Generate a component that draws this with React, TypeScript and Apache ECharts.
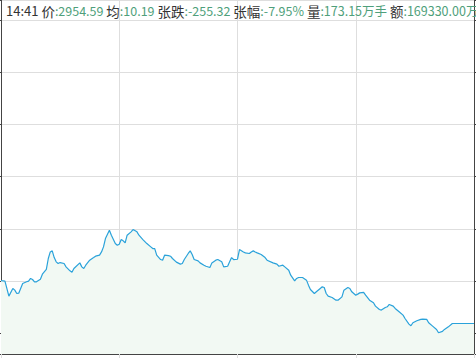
import React, { useEffect, useRef } from "react";
import * as echarts from "echarts";

// minutes since the open (0..240) and index level at that minute
const minutes = [
  0, 2, 4, 6, 7, 8, 9, 11, 13, 14, 15, 16, 17, 18, 20, 21, 23, 24, 25, 26, 27, 28, 29, 30, 32, 33, 35, 36, 37, 40,
  41, 42, 43, 45, 47, 48, 50, 51, 52, 53, 55, 56, 58, 59, 60, 61, 62, 63, 64, 66, 67, 69, 70, 72, 74, 76, 77, 78, 79,
  81, 82, 83, 85, 86, 87, 89, 91, 92, 93, 95, 96, 97, 98, 100, 101, 103, 104, 106, 107, 109, 110, 112, 113, 115, 116,
  117, 118, 120, 121, 123, 124, 126, 127, 128, 129, 130, 132, 134, 135, 138, 140, 141, 143, 144, 146, 147, 149, 150,
  151, 153, 155, 156, 157, 159, 160, 162, 163, 164, 165, 166, 168, 170, 171, 173, 174, 176, 177, 178, 180, 181, 182,
  184, 185, 187, 189, 190, 192, 193, 195, 196, 197, 199, 200, 202, 204, 205, 207, 208, 209, 211, 213, 214, 216, 217,
  219, 221, 222, 224, 225, 227, 229, 240,
];
const prices = [
  3000.6, 3000.0, 2985.7, 2993.0, 2991.4, 2988.2, 2988.5, 2997.8, 2999.4, 3000.0, 3002.6, 3001.6, 2999.4, 2999.4,
  3001.9, 3006.7, 3011.2, 3021.7, 3028.0, 3029.0, 3022.6, 3018.5, 3016.9, 3017.8, 3016.9, 3013.7, 3009.9, 3008.6,
  3012.1, 3017.5, 3013.7, 3012.1, 3015.3, 3020.1, 3022.6, 3023.9, 3024.9, 3028.0, 3032.8, 3040.8, 3048.8, 3044.0,
  3036.0, 3034.4, 3035.4, 3039.8, 3038.6, 3036.6, 3044.0, 3047.2, 3049.4, 3047.2, 3044.0, 3039.8, 3036.0, 3032.8,
  3031.2, 3031.2, 3024.9, 3020.7, 3020.1, 3024.9, 3024.5, 3023.9, 3021.7, 3018.2, 3016.3, 3016.9, 3020.7, 3026.5,
  3029.0, 3025.5, 3020.7, 3019.4, 3017.5, 3015.3, 3014.3, 3013.1, 3017.5, 3020.1, 3020.7, 3018.5, 3013.7, 3014.3,
  3018.5, 3022.6, 3020.7, 3021.0, 3030.3, 3028.0, 3027.1, 3026.5, 3028.0, 3029.0, 3028.0, 3027.1, 3025.5, 3022.6,
  3020.1, 3017.5, 3016.3, 3014.3, 3015.3, 3013.7, 3010.5, 3005.7, 3000.3, 3002.6, 3003.5, 3003.5, 3001.0, 2996.2,
  2992.0, 2988.2, 2989.8, 2993.0, 2994.6, 2993.9, 2988.2, 2985.7, 2984.4, 2981.8, 2981.8, 2985.0, 2991.4, 2993.9,
  2993.0, 2989.8, 2986.6, 2987.6, 2988.8, 2989.2, 2986.6, 2981.8, 2979.3, 2976.1, 2972.9, 2972.3, 2974.8, 2975.5,
  2977.7, 2976.1, 2973.9, 2970.7, 2967.5, 2964.3, 2958.9, 2957.3, 2960.2, 2962.1, 2963.4, 2963.7, 2963.4, 2960.2,
  2957.0, 2953.8, 2950.6, 2951.9, 2953.8, 2956.3, 2959.5, 2959.5,
];

// header (tooltip-like) time, labels and values
const headerTime = "14:41";
const headerLabels = ["价", "均", "张跌", "张幅", "量", "额"];
const headerValues = ["2954.59", "10.19", "-255.32", "-7.95%", "173.15万手", "169330.00万"];

const Y_MIN = 2930.3;
const Y_MAX = 3269.1;

export default function App() {
  const ref = useRef<HTMLDivElement>(null);
  useEffect(() => {
    if (!ref.current) return;
    const chart = echarts.init(ref.current, null, { renderer: "svg" });
    const data = minutes.map((m, i) => [m, prices[i]]);
    const headerText =
      `{t|${headerTime} }` +
      headerLabels.map((l, i) => `{l|${l}}{v|:${headerValues[i]}}`).join("{t| }");
    const axisDark = "#444";
    const gridColor = "#dedede";
    const ff = "'Noto Sans CJK SC', 'Noto Sans', sans-serif";
    chart.setOption({
      animation: false,
      backgroundColor: "#fff",
      grid: { left: 1, right: 2, top: -1, bottom: 4, containLabel: false },
      xAxis: {
        type: "value",
        min: 0,
        max: 240,
        interval: 60,
        axisLine: { show: true, lineStyle: { color: axisDark, width: 1 } },
        axisTick: { show: true, length: 5, lineStyle: { color: gridColor } },
        axisLabel: { show: false },
        splitLine: { show: true, lineStyle: { color: gridColor, width: 1 } },
      },
      yAxis: [
        {
          type: "value",
          min: Y_MIN,
          max: Y_MAX,
          position: "left",
          axisLine: { show: true, lineStyle: { color: axisDark, width: 1 } },
          axisTick: { show: true, length: 4, lineStyle: { color: axisDark } },
          axisLabel: { show: false },
          splitLine: { show: true, lineStyle: { color: gridColor, width: 1 } },
        },
        {
          type: "value",
          min: Y_MIN,
          max: Y_MAX,
          position: "right",
          axisLine: { show: true, lineStyle: { color: axisDark, width: 1 } },
          axisTick: { show: true, length: 4, lineStyle: { color: axisDark } },
          axisLabel: { show: false },
          splitLine: { show: false },
        },
      ],
      series: [
        {
          type: "line",
          data,
          symbol: "none",
          smooth: false,
          lineStyle: { color: "#2aa2da", width: 1.2 },
          areaStyle: { color: "#f2f9f3", opacity: 1, origin: "start" },
        },
      ],
      graphic: [
        {
          type: "text",
          left: 6,
          top: 4,
          z: 10,
          style: {
            text: headerText,
            fontFamily: ff,
            fontSize: 12.5,
            rich: {
              t: { fill: "#333", fontSize: 13, fontFamily: ff },
              l: { fill: "#333", fontSize: 13.5, fontFamily: ff },
              v: { fill: "#4f9f7b", fontSize: 12.5, fontFamily: ff },
            },
          },
        },
      ],
    });
    return () => chart.dispose();
  }, []);
  return (
    <div
      ref={ref}
      style={{ position: "absolute", left: 0, top: 0, width: 476, height: 358 }}
    />
  );
}
